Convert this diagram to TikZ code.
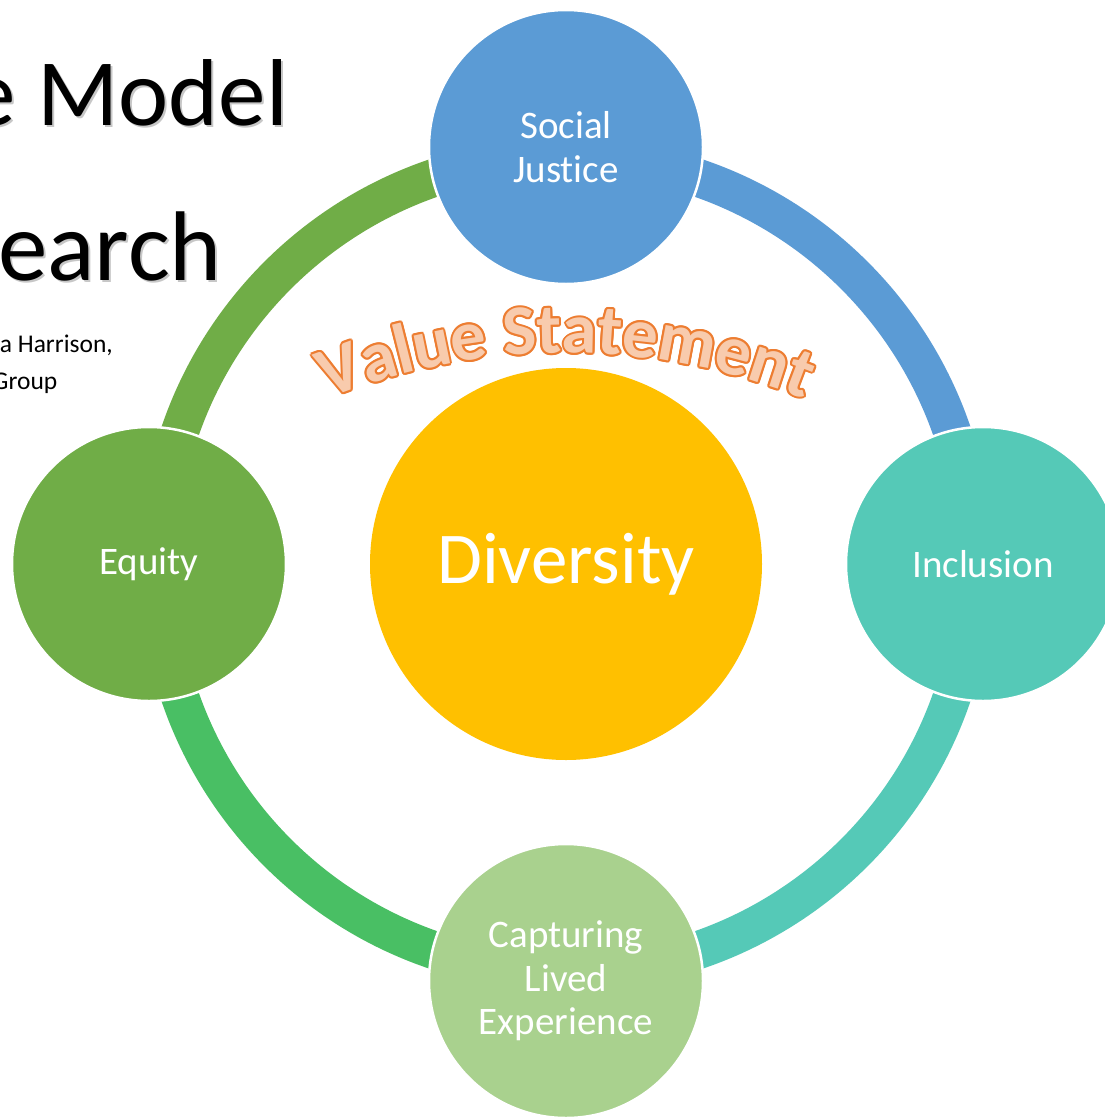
\documentclass[tikz,border=0pt]{standalone}
\usepackage{fontspec}
\setmainfont{Carlito}[Ligatures={NoCommon}]
\usetikzlibrary{calc}
\definecolor{sjblue}{HTML}{5B9BD5}
\definecolor{inclteal}{HTML}{55C9B7}
\definecolor{eqgreen}{HTML}{70AD47}
\definecolor{arcgreen}{HTML}{49BF64}
\definecolor{capgreen}{HTML}{A9D18E}
\definecolor{divgold}{HTML}{FFC000}
\definecolor{vsfill}{HTML}{F8CBAD}
\definecolor{vsline}{HTML}{ED7D31}
\begin{document}
\begin{tikzpicture}[x=1pt,y=-1pt,
  bigcirc/.style={circle, minimum size=274pt, inner sep=0pt, draw=white, line width=2.5pt, text=white, align=center, font=\fontsize{39}{43.5}\selectfont},
  ringarc/.style={line width=38pt},
  vsletter/.style={anchor=base, inner sep=0pt, font=\bfseries\fontsize{71}{71}\selectfont},
  titletext/.style={anchor=base east, inner sep=0pt, font=\fontsize{95}{95}\selectfont},
  titletextb/.style={anchor=base east, inner sep=0pt, font=\fontsize{99}{99}\selectfont},
  subtext/.style={anchor=base east, inner sep=0pt, font=\fontsize{25.5}{28}\selectfont}]
\useasboundingbox (0,0) rectangle (1105,1117);
\fill[white] (0,0) rectangle (1105,1117);
% title fragments
\node[titletext, text=black!22] (t1s) at (290,127) {e Model};
\node[titletext] (t1) at (288,125) {e Model};
\node[titletextb, text=black!22] (t2s) at (224,282) {earch};
\node[titletextb] (t2) at (222,280) {earch};
\node[subtext] (s1) at (113,352) {a Harrison,};
\node[subtext] (s2) at (57.5,389) {Group};
% ring
\coordinate (ctr) at (566,564);
\draw[ringarc, sjblue] ($(ctr)+(270:408)$) arc[start angle=270, end angle=360, radius=408];
\draw[ringarc, inclteal] ($(ctr)+(0:408)$) arc[start angle=0, end angle=90, radius=408];
\draw[ringarc, arcgreen] ($(ctr)+(90:408)$) arc[start angle=90, end angle=180, radius=408];
\draw[ringarc, eqgreen] ($(ctr)+(180:408)$) arc[start angle=180, end angle=270, radius=408];
% circles
\node[bigcirc, fill=sjblue] (sj) at (566,147) {Social\\Justice};
\node[bigcirc, fill=inclteal] (incl) at (983,564) {Inclusion};
\node[bigcirc, fill=capgreen] (cap) at (566,981) {Capturing\\Lived\\Experience};
\node[bigcirc, fill=eqgreen] (eq) at (149,564) {Equity};
\node[circle, minimum size=392pt, inner sep=0pt, fill=divgold, text=white, font=\fontsize{73}{73}\selectfont] (div) at (566,564) {Diversity};
% curved WordArt text
\foreach \ch/\s [count=\i] in {V/-3.185, a/-2.635, l/-2.265, u/-1.8735, e/-1.3535, S/-0.6395, t/-0.2295, a/0.191, t/0.6115, e/1.0365, m/1.6945, e/2.3525, n/2.8725, t/3.3145}{
  \pgfmathsetmacro\ang{\s*70/640*180/pi}
  \coordinate (vsp\i) at ({566+640*sin(\ang)},{993-640*cos(\ang)});
  \foreach \k [count=\j] in {0,30,...,330}{
    \node[vsletter, text=vsline, rotate=-\ang] (vso\i-\j) at ($(vsp\i)+(\k:2)$) {\ch};
  }
  \node[vsletter, text=vsfill, rotate=-\ang] (vsl\i) at (vsp\i) {\ch};
}
\end{tikzpicture}
\end{document}
